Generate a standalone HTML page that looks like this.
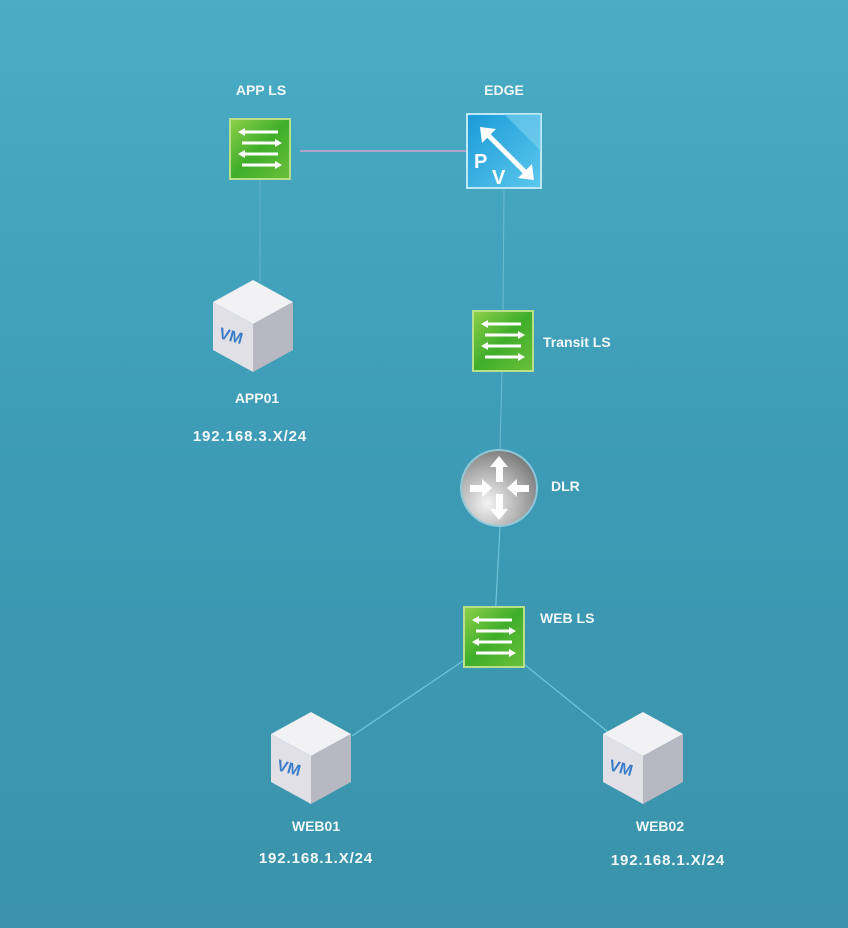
<!DOCTYPE html>
<html><head><meta charset="utf-8"><style>
html,body{margin:0;padding:0;width:848px;height:928px;overflow:hidden}
body{background:linear-gradient(#4aacc5,#3d9bb5 50%,#3a93ab);}
svg{display:block}
text{font-family:"Liberation Sans",sans-serif;font-weight:bold;font-size:14px;fill:#f2f8fa}
.ip{font-size:15px;letter-spacing:0.9px}
</style></head><body>
<svg width="848" height="928" viewBox="0 0 848 928">
<defs>
<linearGradient id="gr" x1="0" y1="0" x2="1" y2="1"><stop offset="0" stop-color="#8fd04a"/><stop offset="0.5" stop-color="#3fae2a"/><stop offset="1" stop-color="#6cc03a"/></linearGradient>
<linearGradient id="bl" x1="0" y1="0" x2="1" y2="1"><stop offset="0" stop-color="#1a9ad8"/><stop offset="1" stop-color="#5cc8ec"/></linearGradient>
<radialGradient id="dl" cx="0.35" cy="0.7" r="0.8"><stop offset="0" stop-color="#f4f4f4"/><stop offset="0.6" stop-color="#a8a8a8"/><stop offset="1" stop-color="#707070"/></radialGradient>
<g id="sw">
<rect x="0" y="0" width="60" height="60" fill="url(#gr)" stroke="#b8e08a" stroke-width="2"/>
<g stroke="#fff" stroke-width="3" fill="#fff">
<line x1="12" y1="13" x2="48" y2="13"/><path d="M8 13 l7 -4 v8z" stroke="none"/>
<line x1="12" y1="24" x2="48" y2="24"/><path d="M52 24 l-7 -4 v8z" stroke="none"/>
<line x1="12" y1="35" x2="48" y2="35"/><path d="M8 35 l7 -4 v8z" stroke="none"/>
<line x1="12" y1="46" x2="48" y2="46"/><path d="M52 46 l-7 -4 v8z" stroke="none"/>
</g></g>
<g id="vm">
<path d="M40 0 L80 22 L40 44 L0 22Z" fill="#f2f2f4"/>
<path d="M0 22 L40 44 L40 92 L0 70Z" fill="#e0e0e6"/>
<path d="M80 22 L40 44 L40 92 L80 70Z" fill="#b8b8c2"/>
<text x="5" y="58" transform="rotate(15 5 58)" style="fill:#3a7cc8;font-size:16px">VM</text>
</g>
</defs>
<line x1="300" y1="151" x2="466" y2="151" stroke="#d0a0cc" stroke-width="1.5"/>
<line x1="260" y1="180" x2="260" y2="282" stroke="#62b4c9" stroke-width="1"/>
<line x1="504" y1="190" x2="503" y2="310" stroke="#6fbcd0" stroke-width="1"/>
<line x1="502" y1="372" x2="500" y2="450" stroke="#6fbcd0" stroke-width="1"/>
<line x1="500" y1="526" x2="494" y2="640" stroke="#6fc4d8" stroke-width="1.2"/>
<line x1="494" y1="640" x2="352" y2="736" stroke="#6fc4d8" stroke-width="1.2"/>
<line x1="494" y1="640" x2="608" y2="732" stroke="#6fc4d8" stroke-width="1.2"/>

<text x="261" y="95" text-anchor="middle">APP LS</text>
<use href="#sw" x="230" y="119"/>
<text x="504" y="95" text-anchor="middle">EDGE</text>
<rect x="467" y="114" width="74" height="74" fill="url(#bl)" stroke="#bfe8f6" stroke-width="2"/>
<path d="M504 114 L541 114 L541 151Z" fill="#8ad8f2" opacity="0.5"/>
<g stroke="#fff" stroke-width="5" fill="#fff"><line x1="488" y1="135" x2="525" y2="172"/></g>
<path d="M480 127 l16 2 -14 14z M534 180 l-16 -2 14 -14z" fill="#fff"/>
<text x="474" y="168" style="font-size:20px;fill:#fff">P</text>
<text x="492" y="184" style="font-size:20px;fill:#fff">V</text>

<use href="#vm" x="213" y="280"/>
<text x="257" y="403" text-anchor="middle">APP01</text>
<text x="250" y="441" text-anchor="middle" class="ip">192.168.3.X/24</text>

<use href="#sw" x="473" y="311"/>
<text x="543" y="347">Transit LS</text>

<circle cx="499" cy="488" r="38" fill="url(#dl)" stroke="#8fc8d8" stroke-width="2"/>
<g fill="#fff"><rect x="496" y="466" width="7" height="16"/><path d="M499 456 l-9 11 h18z"/>
<rect x="496" y="494" width="7" height="16"/><path d="M499 520 l-9 -11 h18z"/>
<rect x="470" y="485" width="16" height="7"/><path d="M492 488 l-10 -9 v18z"/>
<rect x="513" y="485" width="16" height="7"/><path d="M507 488 l10 -9 v18z"/></g>
<text x="551" y="491">DLR</text>

<use href="#sw" x="464" y="607"/>
<text x="540" y="623">WEB LS</text>

<use href="#vm" x="271" y="712"/>
<text x="316" y="831" text-anchor="middle">WEB01</text>
<text x="316" y="863" text-anchor="middle" class="ip">192.168.1.X/24</text>
<use href="#vm" x="603" y="712"/>
<text x="660" y="831" text-anchor="middle">WEB02</text>
<text x="668" y="865" text-anchor="middle" class="ip">192.168.1.X/24</text>
</svg>
</body></html>
